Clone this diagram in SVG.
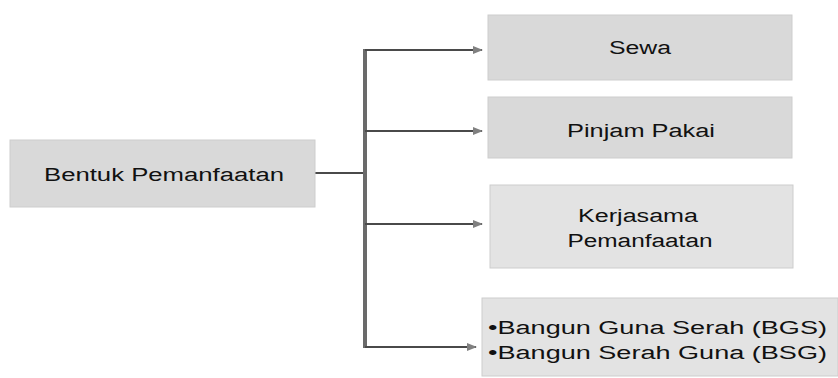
<svg xmlns="http://www.w3.org/2000/svg" width="838" height="378" viewBox="0 0 838 378">
  <style>
    .box { fill: #d9d9d9; stroke: #cdcdcd; stroke-width: 1; }
    .box.light { fill: #e3e3e3; }
    .lbl { font-family: "Liberation Sans", Arial, sans-serif; font-size: 18px; fill: #111; }
    .link { fill: none; stroke: #4a4a4a; stroke-width: 2; }
    .trunk { fill: none; stroke: #6a6a6a; stroke-width: 4; }
  </style>
  <defs>
    <marker id="tip" viewBox="0 0 10 10" refX="9" refY="5" markerWidth="5" markerHeight="5" orient="auto" markerUnits="strokeWidth">
      <path d="M0,1 L10,5 L0,9 Z" fill="#808080"/>
    </marker>
  </defs>
  <rect width="838" height="378" fill="#ffffff"/>

  <!-- connectors: stem from the source box, vertical trunk, four arrowed branches -->
  <g id="connectors">
    <line class="link" x1="315" y1="173" x2="365" y2="173"/>
    <line class="trunk" x1="365" y1="49" x2="365" y2="348"/>
    <line class="link" x1="365" y1="50" x2="482" y2="50" marker-end="url(#tip)"/>
    <line class="link" x1="365" y1="131" x2="482" y2="131" marker-end="url(#tip)"/>
    <line class="link" x1="365" y1="224" x2="482" y2="224" marker-end="url(#tip)"/>
    <line class="link" x1="365" y1="347" x2="476" y2="347" marker-end="url(#tip)"/>
  </g>

  <g id="bentuk-pemanfaatan">
    <rect class="box" x="10" y="140" width="305" height="67"/>
    <text class="lbl" x="44" y="181" textLength="240" lengthAdjust="spacingAndGlyphs">Bentuk Pemanfaatan</text>
  </g>

  <g id="sewa">
    <rect class="box" x="488" y="15" width="304" height="65"/>
    <text class="lbl" x="640" y="54" text-anchor="middle" textLength="62" lengthAdjust="spacingAndGlyphs">Sewa</text>
  </g>

  <g id="pinjam-pakai">
    <rect class="box" x="488" y="97" width="304" height="61"/>
    <text class="lbl" x="641" y="137" text-anchor="middle" textLength="148" lengthAdjust="spacingAndGlyphs">Pinjam Pakai</text>
  </g>

  <g id="kerjasama-pemanfaatan">
    <rect class="box light" x="490" y="185" width="303" height="83"/>
    <text class="lbl" x="638" y="222" text-anchor="middle" textLength="120" lengthAdjust="spacingAndGlyphs">Kerjasama</text>
    <text class="lbl" x="640" y="247" text-anchor="middle" textLength="145" lengthAdjust="spacingAndGlyphs">Pemanfaatan</text>
  </g>

  <g id="bgs-bsg">
    <rect class="box light" x="482" y="298" width="356" height="78"/>
    <text class="lbl" x="488" y="334" textLength="339" lengthAdjust="spacingAndGlyphs">•Bangun Guna Serah (BGS)</text>
    <text class="lbl" x="488" y="359" textLength="339" lengthAdjust="spacingAndGlyphs">•Bangun Serah Guna (BSG)</text>
  </g>
</svg>
